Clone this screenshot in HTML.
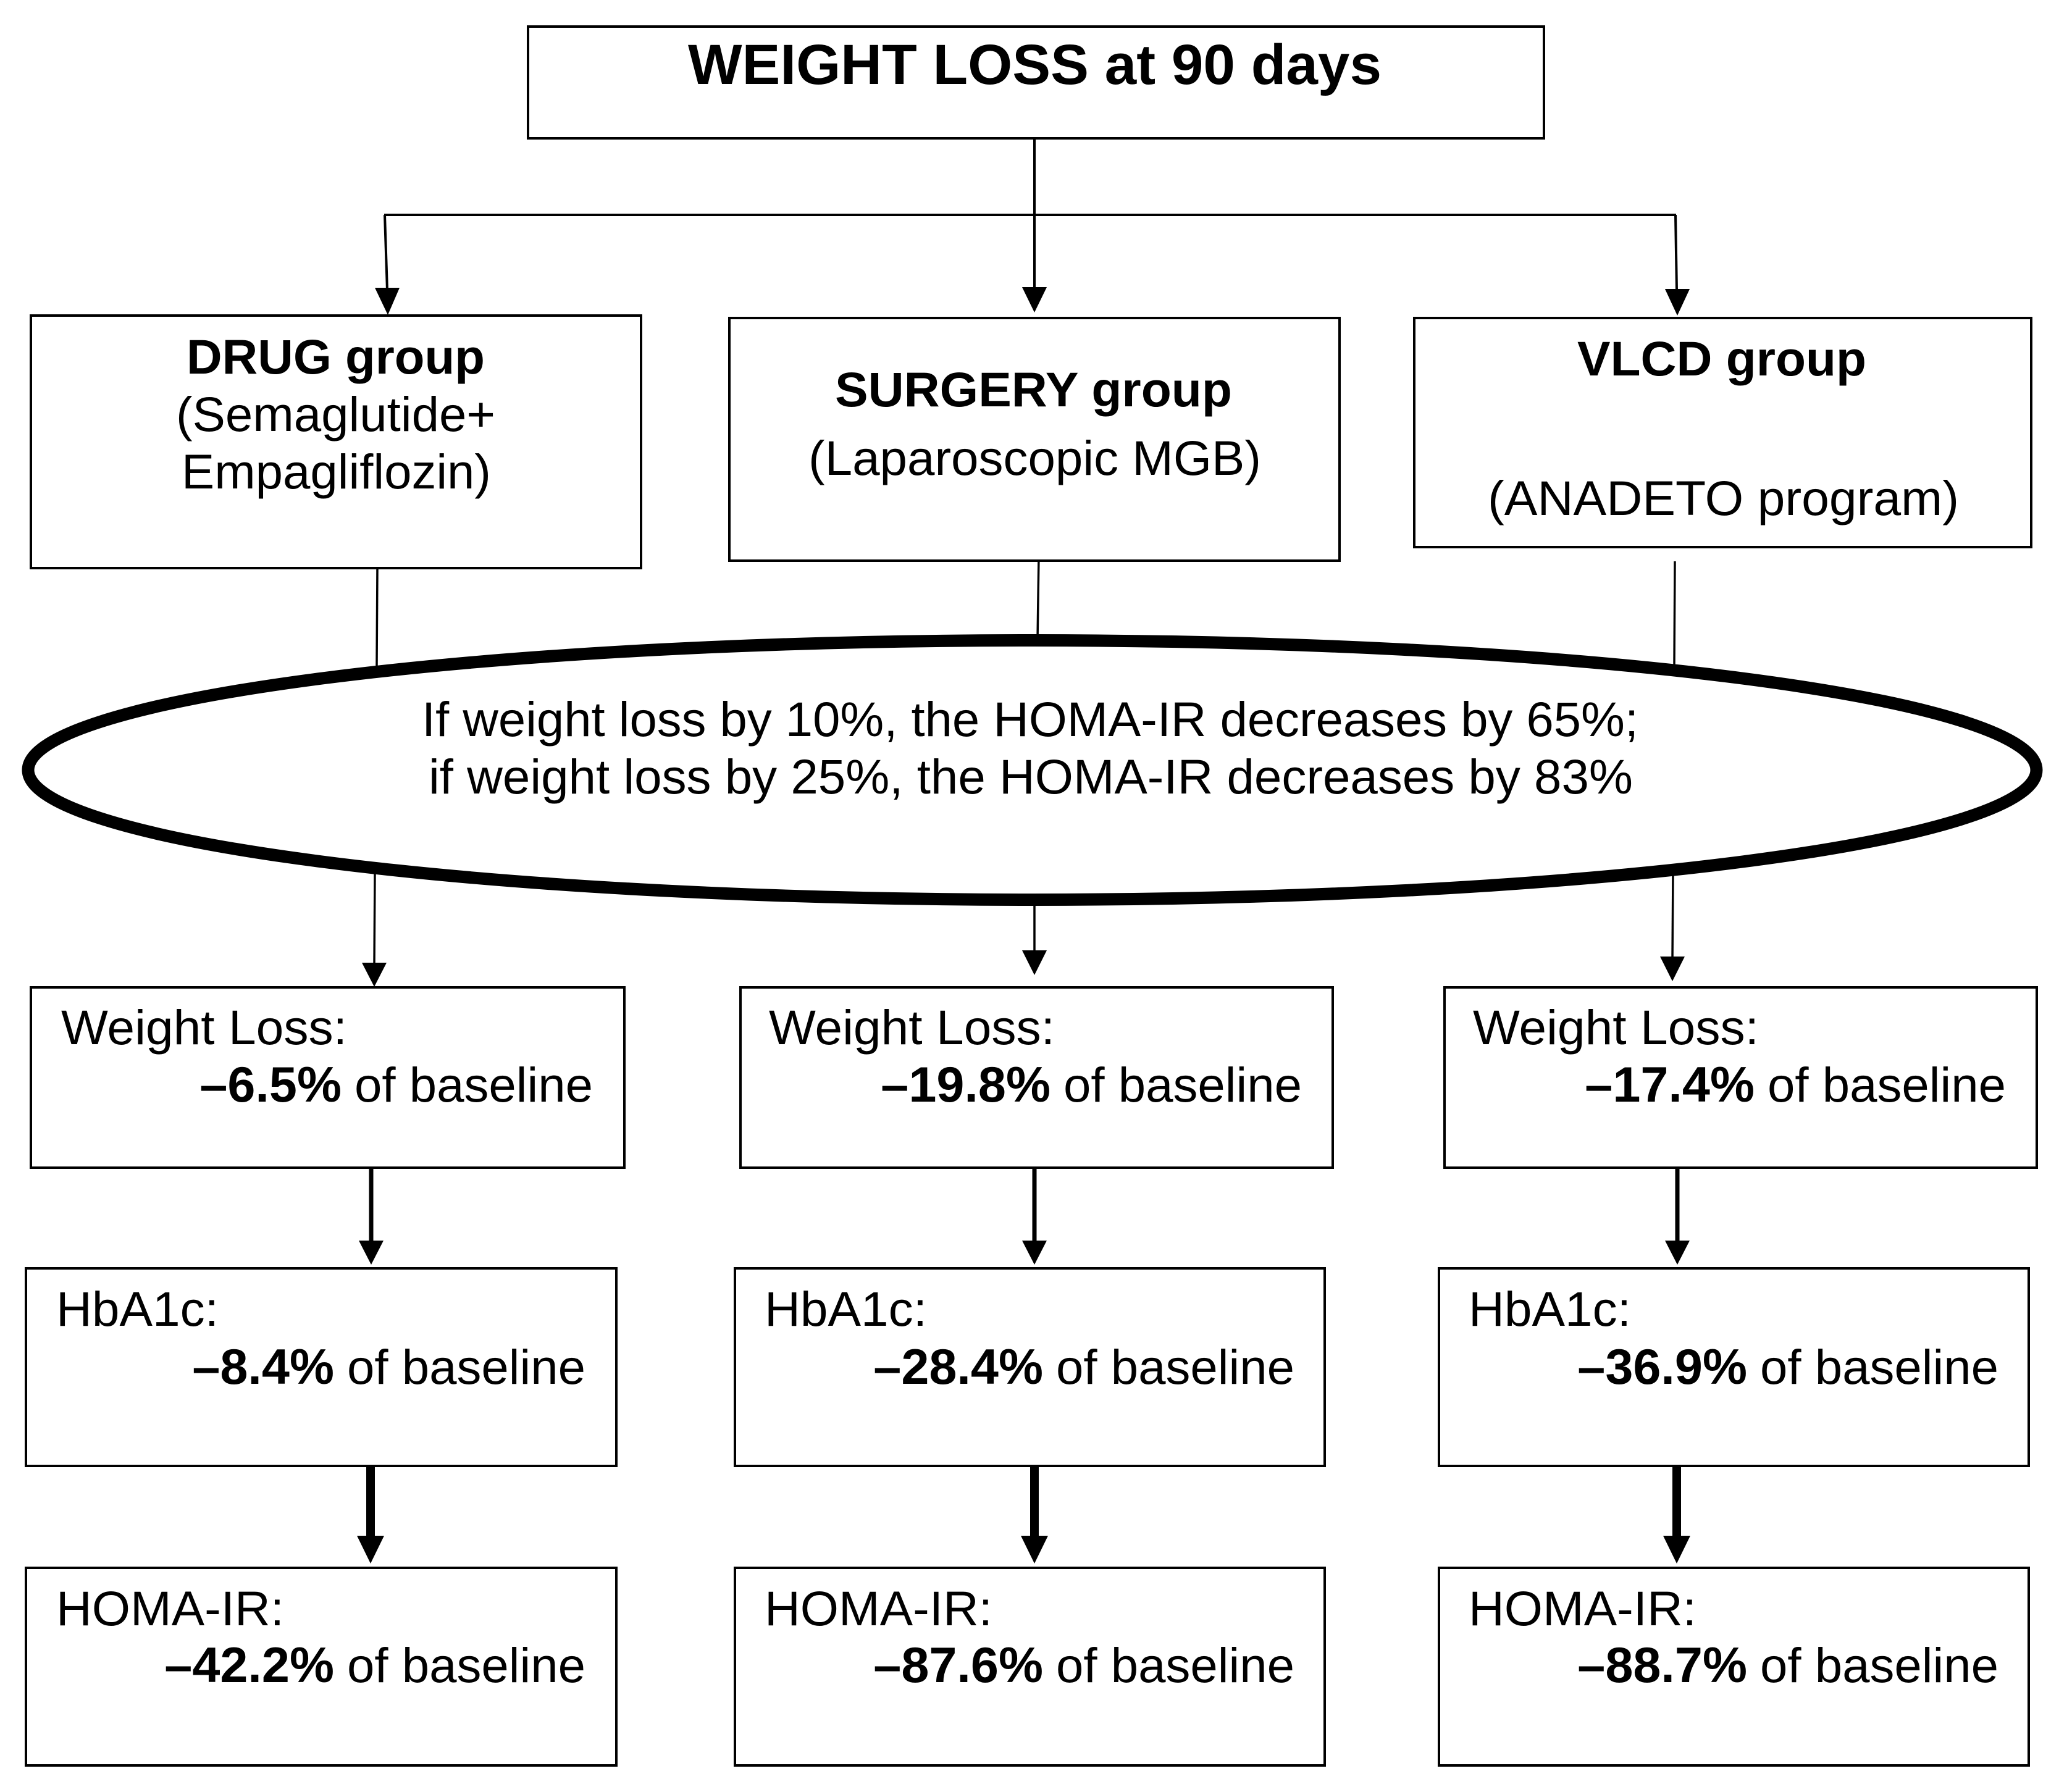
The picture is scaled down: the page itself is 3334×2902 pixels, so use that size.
<!DOCTYPE html>
<html lang="en">
<head>
<meta charset="utf-8">
<title>Weight loss at 90 days flowchart</title>
<style>
html,body{margin:0;padding:0;background:#fff;width:3334px;height:2902px;overflow:hidden}
svg{display:block}
text{font-family:"Liberation Sans",Arial,sans-serif;font-size:79px;fill:#000}
.b{font-weight:bold}
.v{font-weight:bold;font-size:81px}
rect{fill:#fff;stroke:#000;stroke-width:4}
line{stroke:#000}
polygon{fill:#000}
</style>
</head>
<body>
<svg xmlns="http://www.w3.org/2000/svg" width="3334" height="2902" viewBox="0 0 3334 2902">
<rect x="0" y="0" width="3334" height="2902" style="stroke:none"/>

<g>
<line x1="1675" y1="226" x2="1675" y2="470" stroke-width="4"/>
<polygon points="1655,465 1695,465 1675,506"/>
<line x1="622" y1="348" x2="2714" y2="348" stroke-width="4"/>
<line x1="623" y1="348" x2="627" y2="470" stroke-width="4"/>
<polygon points="607,466 647,466 628,510"/>
<line x1="2713" y1="348" x2="2715" y2="470" stroke-width="4"/>
<polygon points="2696,468 2736,468 2716,511"/>
</g>

<g>
<line x1="611" y1="921" x2="610" y2="1078" stroke-width="3.5"/>
<line x1="1682" y1="900" x2="1680" y2="1036" stroke-width="3.5"/>
<line x1="2712" y1="909" x2="2711" y2="1078" stroke-width="3.5"/>
<line x1="607" y1="1412" x2="606" y2="1565" stroke-width="3.5"/>
<polygon points="586,1559 626,1559 606,1598"/>
<line x1="1675" y1="1460" x2="1675" y2="1545" stroke-width="3.5"/>
<polygon points="1655,1539 1695,1539 1675,1579"/>
<line x1="2709" y1="1414" x2="2708" y2="1555" stroke-width="3.5"/>
<polygon points="2688,1549 2728,1549 2708,1589"/>
</g>

<g>
<rect x="855" y="43" width="1645" height="181"/>
<text class="b" x="1114" y="136" style="font-size:92px" textLength="1123" lengthAdjust="spacingAndGlyphs">WEIGHT LOSS at 90 days</text>
</g>

<g>
<rect x="50" y="511" width="988" height="409"/>
<text class="b" x="302" y="605" textLength="483" lengthAdjust="spacingAndGlyphs">DRUG group</text>
<text x="285" y="698" textLength="517" lengthAdjust="spacingAndGlyphs">(Semaglutide+</text>
<text x="294" y="791" textLength="501" lengthAdjust="spacingAndGlyphs">Empagliflozin)</text>
</g>

<g>
<rect x="1181" y="515" width="988" height="393"/>
<text class="b" x="1352" y="658" textLength="643" lengthAdjust="spacingAndGlyphs">SURGERY group</text>
<text x="1309" y="769" textLength="733" lengthAdjust="spacingAndGlyphs">(Laparoscopic MGB)</text>
</g>

<g>
<rect x="2290" y="515" width="999" height="371"/>
<text class="b" x="2554" y="608" textLength="468" lengthAdjust="spacingAndGlyphs">VLCD group</text>
<text x="2409" y="834" textLength="763" lengthAdjust="spacingAndGlyphs">(ANADETO program)</text>
</g>

<g>
<ellipse cx="1671.5" cy="1247" rx="1626" ry="210" fill="#fff" stroke="#000" stroke-width="20"/>
<text x="683" y="1192" textLength="1970" lengthAdjust="spacingAndGlyphs">If weight loss by 10%, the HOMA-IR decreases by 65%;</text>
<text x="694" y="1285" textLength="1950" lengthAdjust="spacingAndGlyphs">if weight loss by 25%, the HOMA-IR decreases by 83%</text>
</g>

<g>
<line x1="601" y1="1890" x2="601" y2="2015" stroke-width="7"/>
<polygon points="581,2009 621,2009 601,2048"/>
<line x1="1675" y1="1890" x2="1675" y2="2015" stroke-width="7"/>
<polygon points="1655,2009 1695,2009 1675,2048"/>
<line x1="2716" y1="1890" x2="2716" y2="2015" stroke-width="7"/>
<polygon points="2696,2009 2736,2009 2716,2048"/>
<line x1="600" y1="2370" x2="600" y2="2492" stroke-width="14"/>
<polygon points="578,2487 622,2487 600,2532"/>
<line x1="1675" y1="2370" x2="1675" y2="2492" stroke-width="14"/>
<polygon points="1653,2487 1697,2487 1675,2532"/>
<line x1="2715" y1="2370" x2="2715" y2="2492" stroke-width="14"/>
<polygon points="2693,2487 2737,2487 2715,2532"/>
</g>

<g>
<rect x="50" y="1599" width="961" height="292"/>
<text x="99" y="1691" textLength="463" lengthAdjust="spacingAndGlyphs">Weight Loss:</text>
<text class="v" x="553" y="1784" text-anchor="end">–6.5%</text>
<text x="574" y="1784" textLength="386" lengthAdjust="spacingAndGlyphs">of baseline</text>
<rect x="42" y="2054" width="956" height="320"/>
<text x="91" y="2147" textLength="263" lengthAdjust="spacingAndGlyphs">HbA1c:</text>
<text class="v" x="541" y="2241" text-anchor="end">–8.4%</text>
<text x="562" y="2241" textLength="386" lengthAdjust="spacingAndGlyphs">of baseline</text>
<rect x="42" y="2539" width="956" height="320"/>
<text x="91" y="2632" textLength="369" lengthAdjust="spacingAndGlyphs">HOMA-IR:</text>
<text class="v" x="541" y="2724" text-anchor="end">–42.2%</text>
<text x="562" y="2724" textLength="386" lengthAdjust="spacingAndGlyphs">of baseline</text>
</g>

<g>
<rect x="1199" y="1599" width="959" height="292"/>
<text x="1245" y="1691" textLength="463" lengthAdjust="spacingAndGlyphs">Weight Loss:</text>
<text class="v" x="1701" y="1784" text-anchor="end">–19.8%</text>
<text x="1722" y="1784" textLength="386" lengthAdjust="spacingAndGlyphs">of baseline</text>
<rect x="1190" y="2054" width="955" height="320"/>
<text x="1238" y="2147" textLength="263" lengthAdjust="spacingAndGlyphs">HbA1c:</text>
<text class="v" x="1689" y="2241" text-anchor="end">–28.4%</text>
<text x="1710" y="2241" textLength="386" lengthAdjust="spacingAndGlyphs">of baseline</text>
<rect x="1190" y="2539" width="955" height="320"/>
<text x="1238" y="2632" textLength="369" lengthAdjust="spacingAndGlyphs">HOMA-IR:</text>
<text class="v" x="1689" y="2724" text-anchor="end">–87.6%</text>
<text x="1710" y="2724" textLength="386" lengthAdjust="spacingAndGlyphs">of baseline</text>
</g>

<g>
<rect x="2339" y="1599" width="959" height="292"/>
<text x="2385" y="1691" textLength="463" lengthAdjust="spacingAndGlyphs">Weight Loss:</text>
<text class="v" x="2841" y="1784" text-anchor="end">–17.4%</text>
<text x="2862" y="1784" textLength="386" lengthAdjust="spacingAndGlyphs">of baseline</text>
<rect x="2330" y="2054" width="955" height="320"/>
<text x="2378" y="2147" textLength="263" lengthAdjust="spacingAndGlyphs">HbA1c:</text>
<text class="v" x="2829" y="2241" text-anchor="end">–36.9%</text>
<text x="2850" y="2241" textLength="386" lengthAdjust="spacingAndGlyphs">of baseline</text>
<rect x="2330" y="2539" width="955" height="320"/>
<text x="2378" y="2632" textLength="369" lengthAdjust="spacingAndGlyphs">HOMA-IR:</text>
<text class="v" x="2829" y="2724" text-anchor="end">–88.7%</text>
<text x="2850" y="2724" textLength="386" lengthAdjust="spacingAndGlyphs">of baseline</text>
</g>
</svg>
</body>
</html>
